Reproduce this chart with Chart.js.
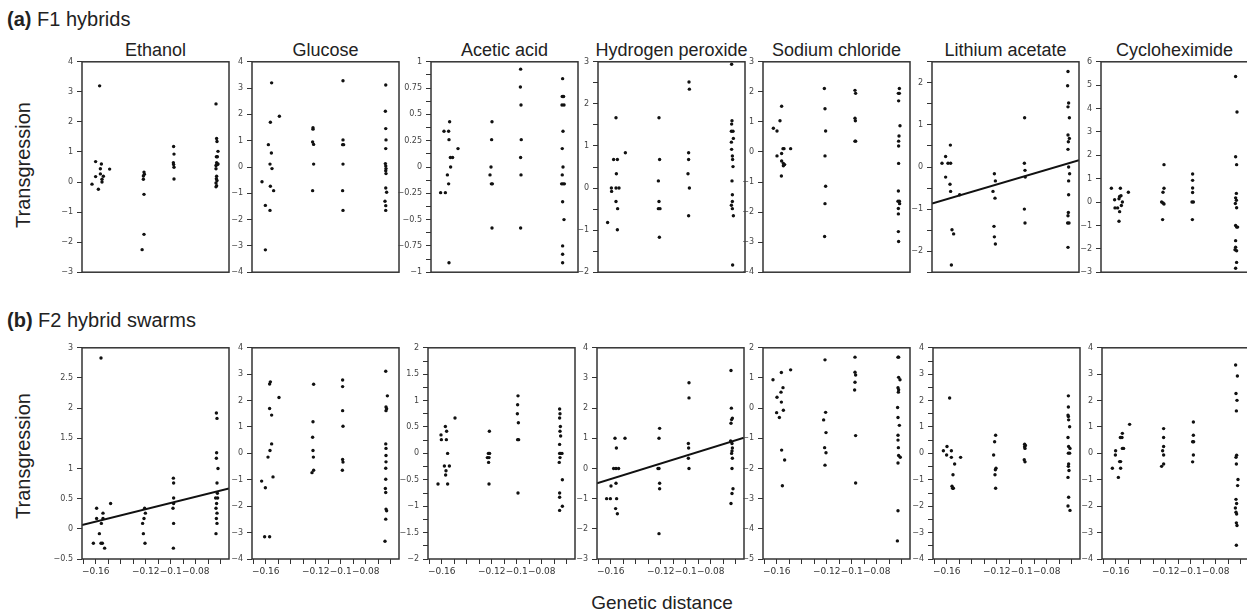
<!DOCTYPE html>
<html>
<head>
<meta charset="utf-8">
<script src="https://cdn.jsdelivr.net/npm/chart.js@4.4.1/dist/chart.umd.min.js"></script>
<style>
  body { margin: 0; background: #fff; width: 1247px; height: 613px; position: relative; overflow: hidden;
         font-family: "Liberation Sans", Arial, sans-serif; color: #222; }
  .txt { position: absolute; white-space: nowrap; }
  .title { position: absolute; white-space: nowrap; font-size: 18px; line-height: 20px; top: 40px; transform: translateX(-50%); }
  .ylab { position: absolute; font-size: 20px; line-height: 20px; white-space: nowrap; transform: translate(-50%, -50%) rotate(-90deg); }
  canvas { position: absolute; }
</style>
</head>
<body>
<div class="txt" style="left:7px;top:9px;font-size:20px;line-height:20px"><b>(a)</b> F1 hybrids</div>
<div class="txt" style="left:7px;top:310px;font-size:20px;line-height:20px"><b>(b)</b> F2 hybrid swarms</div>
<div class="ylab" style="left:23px;top:165px">Transgression</div>
<div class="ylab" style="left:23px;top:456px">Transgression</div>
<div class="txt" style="left:662px;top:593px;font-size:19px;line-height:20px;transform:translateX(-50%)">Genetic distance</div>
<div id="titles"></div>
<div id="plots"></div>

<script>
// stresses (panel titles)
const stresses = ['Ethanol', 'Glucose', 'Acetic acid', 'Hydrogen peroxide', 'Sodium chloride', 'Lithium acetate', 'Cycloheximide'];

// genetic distance axis
const X_MIN = -0.171, X_MAX = -0.0534;
const xTickValues = [-0.17, -0.16, -0.15, -0.14, -0.13, -0.12, -0.11, -0.1, -0.09, -0.08, -0.07, -0.06];
const xTickLabels = [-0.16, -0.12, -0.1, -0.08];

// (a) F1 hybrids: [genetic distance, transgression]
const f1Ethanol = [[-0.1630,-0.07],[-0.1601,0.18],[-0.1601,0.68],[-0.1579,-0.24],[-0.1569,3.2],[-0.1563,0.44],[-0.1555,0.6],[-0.1563,0.27],[-0.1550,0.0],[-0.1550,0.09],[-0.1539,0.19],[-0.1489,0.43],
  [-0.1214,0.33],[-0.1211,0.26],[-0.1219,0.2],[-0.1219,0.09],[-0.1214,-0.41],[-0.1214,-1.74],[-0.1229,-2.25],
  [-0.0977,1.18],[-0.0974,0.93],[-0.0979,0.64],[-0.0977,0.58],[-0.0974,0.49],[-0.0974,0.1],
  [-0.0638,2.6],[-0.0633,1.45],[-0.0630,1.35],[-0.0622,1.02],[-0.0635,0.84],[-0.0627,0.84],[-0.0633,0.64],[-0.0627,0.58],[-0.0638,0.55],[-0.0622,0.6],[-0.0638,0.44],[-0.0633,0.19],[-0.0635,0.11],[-0.0630,0.05],[-0.0638,-0.03],[-0.0633,-0.12],[-0.0638,-0.16]];
const f1Glucose = [[-0.1630,-0.56],[-0.1603,-1.46],[-0.1553,3.2],[-0.1563,1.7],[-0.1579,0.85],[-0.1555,0.53],[-0.1566,0.11],[-0.1550,-0.06],[-0.1563,-0.73],[-0.1537,-0.9],[-0.1566,-1.65],[-0.1603,-3.15],[-0.1491,1.93],
  [-0.1222,1.49],[-0.1222,1.44],[-0.1225,0.95],[-0.1217,0.86],[-0.1217,0.11],[-0.1225,-0.9],
  [-0.0982,3.28],[-0.0982,1.03],[-0.0985,0.85],[-0.0977,0.85],[-0.0982,0.11],[-0.0985,-0.9],[-0.0982,-1.65],
  [-0.0640,3.12],[-0.0643,2.12],[-0.0640,1.46],[-0.0638,1.03],[-0.0640,0.7],[-0.0643,0.13],[-0.0640,0.04],[-0.0638,-0.06],[-0.0640,-0.14],[-0.0638,-0.25],[-0.0640,-0.8],[-0.0633,-0.96],[-0.0646,-1.3],[-0.0640,-1.47],[-0.0640,-1.65]];
const f1Acetic = [[-0.1633,-0.244],[-0.1595,-0.244],[-0.1606,0.34],[-0.1569,0.34],[-0.1561,0.43],[-0.1566,0.26],[-0.1555,0.09],[-0.1537,0.09],[-0.1553,0.0],[-0.1579,-0.075],[-0.1569,-0.16],[-0.1494,0.175],[-0.1566,-0.91],
  [-0.1222,0.43],[-0.1225,0.26],[-0.1230,0.0],[-0.1238,-0.075],[-0.1227,-0.16],[-0.1219,-0.16],[-0.1222,-0.58],
  [-0.0993,0.93],[-0.0995,0.76],[-0.0990,0.59],[-0.0988,0.26],[-0.0993,0.09],[-0.0990,-0.075],[-0.0993,-0.58],
  [-0.0657,0.84],[-0.0660,0.67],[-0.0649,0.67],[-0.0662,0.59],[-0.0646,0.59],[-0.0654,0.34],[-0.0660,0.175],[-0.0654,0.0],[-0.0660,-0.075],[-0.0665,-0.16],[-0.0654,-0.16],[-0.0643,-0.16],[-0.0657,-0.33],[-0.0646,-0.5],[-0.0657,-0.75],[-0.0657,-0.83],[-0.0657,-0.91]];
const f1H2O2 = [[-0.1633,-0.82],[-0.1603,0.0],[-0.1601,-0.08],[-0.1585,0.68],[-0.1555,0.68],[-0.1566,1.67],[-0.1563,0.34],[-0.1566,0.0],[-0.1542,0.0],[-0.1566,-0.32],[-0.1553,-0.49],[-0.1555,-0.99],[-0.1491,0.84],
  [-0.1222,1.67],[-0.1217,0.68],[-0.1227,0.17],[-0.1222,-0.32],[-0.1227,-0.49],[-0.1214,-0.49],[-0.1219,-1.17],
  [-0.0982,2.52],[-0.0979,2.35],[-0.0985,0.84],[-0.0985,0.68],[-0.0990,0.34],[-0.0979,0.0],[-0.0985,-0.66],
  [-0.0641,2.94],[-0.0638,1.6],[-0.0641,1.52],[-0.0643,1.35],[-0.0630,1.35],[-0.0627,1.18],[-0.0643,1.09],[-0.0641,0.92],[-0.0635,0.76],[-0.0633,0.68],[-0.0630,0.51],[-0.0638,0.17],[-0.0635,-0.16],[-0.0635,-0.32],[-0.0643,-0.41],[-0.0635,-0.49],[-0.0627,-0.66],[-0.0633,-1.83]];
const f1NaCl = [[-0.1627,0.79],[-0.1598,0.7],[-0.1574,1.04],[-0.1561,1.52],[-0.1598,-0.13],[-0.1561,-0.05],[-0.1550,0.11],[-0.1542,0.11],[-0.1561,-0.3],[-0.1547,-0.38],[-0.1537,-0.42],[-0.1547,-0.46],[-0.1563,-0.8],[-0.1489,0.11],
  [-0.1219,2.11],[-0.1214,1.44],[-0.1209,0.7],[-0.1214,-0.13],[-0.1209,-1.14],[-0.1214,-1.72],[-0.1217,-2.81],
  [-0.0974,2.05],[-0.0969,1.95],[-0.0974,1.12],[-0.0971,1.04],[-0.0969,0.36],[-0.0974,0.36],
  [-0.0619,2.11],[-0.0627,1.95],[-0.0619,1.95],[-0.0625,1.7],[-0.0614,0.87],[-0.0622,0.53],[-0.0625,0.36],[-0.0625,0.2],[-0.0625,-0.38],[-0.0627,-1.3],[-0.0630,-1.64],[-0.0619,-1.64],[-0.0617,-1.72],[-0.0627,-1.88],[-0.0627,-2.06],[-0.0627,-2.65],[-0.0625,-2.98]];
const f1LiAc = [[-0.1630,0.09],[-0.1601,0.25],[-0.1582,0.09],[-0.1561,0.09],[-0.1563,0.52],[-0.1601,-0.24],[-0.1566,-0.41],[-0.1561,-0.58],[-0.1489,-0.66],[-0.1550,-1.49],[-0.1537,-1.59],[-0.1555,-2.33],
  [-0.1211,-0.16],[-0.1203,-0.33],[-0.1222,-0.58],[-0.1206,-0.74],[-0.1214,-1.41],[-0.1211,-1.66],[-0.1203,-1.83],
  [-0.0969,1.17],[-0.0971,0.09],[-0.0966,-0.08],[-0.0964,-0.24],[-0.0971,-1.0],[-0.0966,-1.33],
  [-0.0622,2.27],[-0.0625,1.93],[-0.0617,1.52],[-0.0622,1.43],[-0.0611,1.17],[-0.0622,0.76],[-0.0611,0.68],[-0.0619,0.6],[-0.0622,0.42],[-0.0617,0.0],[-0.0609,-0.16],[-0.0617,-0.33],[-0.0617,-0.66],[-0.0619,-1.08],[-0.0622,-1.16],[-0.0625,-1.33],[-0.0614,-1.33],[-0.0622,-1.91]];
const f1Cyclo = [[-0.1627,0.59],[-0.1555,0.59],[-0.1601,0.1],[-0.1561,0.24],[-0.1550,0.27],[-0.1566,0.14],[-0.1598,-0.25],[-0.1577,-0.25],[-0.1539,0.0],[-0.1547,-0.15],[-0.1561,-0.41],[-0.1566,-0.82],[-0.1491,0.42],
  [-0.1206,1.6],[-0.1206,0.59],[-0.1214,0.42],[-0.1225,0.0],[-0.1214,-0.04],[-0.1206,-0.08],[-0.1217,-0.75],
  [-0.0977,1.2],[-0.0977,0.93],[-0.0977,0.6],[-0.0977,0.41],[-0.0982,0.0],[-0.0971,0.0],[-0.0979,-0.75],
  [-0.0633,5.37],[-0.0622,3.85],[-0.0633,1.94],[-0.0625,1.6],[-0.0627,0.37],[-0.0633,0.18],[-0.0627,0.08],[-0.0635,-0.06],[-0.0625,-0.24],[-0.0633,-1.0],[-0.0625,-1.07],[-0.0617,-1.07],[-0.0633,-1.65],[-0.0633,-1.93],[-0.0638,-2.04],[-0.0625,-2.08],[-0.0625,-2.58],[-0.0633,-2.83]];

// (b) F2 hybrid swarms
const f2Ethanol = [[-0.1619,-0.24],[-0.1593,0.34],[-0.1593,0.17],[-0.1571,-0.08],[-0.1558,2.83],[-0.1558,-0.24],[-0.1547,-0.24],[-0.1555,0.09],[-0.1542,0.26],[-0.1542,0.17],[-0.1529,-0.32],[-0.1481,0.42],
  [-0.1209,0.34],[-0.1203,0.26],[-0.1214,0.17],[-0.1225,0.09],[-0.1219,-0.08],[-0.1206,-0.24],
  [-0.0979,0.84],[-0.0977,0.76],[-0.0977,0.51],[-0.0977,0.42],[-0.0982,0.34],[-0.0977,0.09],[-0.0979,-0.32],
  [-0.0635,1.92],[-0.0630,1.83],[-0.0633,1.26],[-0.0635,1.17],[-0.0622,1.0],[-0.0630,0.76],[-0.0627,0.59],[-0.0641,0.51],[-0.0625,0.51],[-0.0633,0.42],[-0.0638,0.34],[-0.0630,0.26],[-0.0635,0.17],[-0.0630,0.09],[-0.0638,-0.08]];
const f2Glucose = [[-0.1633,-1.05],[-0.1603,-1.3],[-0.1609,-3.16],[-0.1569,-3.16],[-0.1582,-0.14],[-0.1566,0.11],[-0.1553,0.36],[-0.1569,1.7],[-0.1553,1.45],[-0.1569,2.63],[-0.1563,2.71],[-0.1542,-0.89],[-0.1494,2.12],
  [-0.1217,2.62],[-0.1222,1.2],[-0.1225,0.61],[-0.1222,0.11],[-0.1219,-0.14],[-0.1230,-0.73],[-0.1217,-0.64],
  [-0.0985,2.78],[-0.0985,2.53],[-0.0985,1.62],[-0.0982,1.03],[-0.0985,-0.23],[-0.0982,-0.33],[-0.0987,-0.64],
  [-0.0640,3.11],[-0.0627,2.18],[-0.0638,1.76],[-0.0633,1.69],[-0.0638,1.62],[-0.0640,0.36],[-0.0638,0.19],[-0.0638,-0.08],[-0.0638,-0.32],[-0.0640,-0.56],[-0.0640,-0.98],[-0.0643,-1.33],[-0.0640,-1.48],[-0.0638,-2.11],[-0.0633,-2.17],[-0.0640,-2.49],[-0.0646,-3.33]];
const f2Acetic = [[-0.1630,-0.58],[-0.1606,0.35],[-0.1603,0.26],[-0.1571,0.51],[-0.1561,0.42],[-0.1563,0.26],[-0.1553,0.0],[-0.1579,-0.24],[-0.1539,-0.24],[-0.1566,-0.33],[-0.1569,-0.41],[-0.1553,-0.58],[-0.1494,0.67],
  [-0.1219,0.42],[-0.1227,0.0],[-0.1217,0.0],[-0.1235,-0.08],[-0.1222,-0.08],[-0.1225,-0.17],[-0.1222,-0.58],
  [-0.0990,1.09],[-0.0993,0.92],[-0.0995,0.75],[-0.0987,0.58],[-0.0985,0.26],[-0.0993,0.26],[-0.0990,-0.75],
  [-0.0657,0.84],[-0.0654,0.75],[-0.0657,0.67],[-0.0651,0.51],[-0.0654,0.42],[-0.0649,0.33],[-0.0657,0.17],[-0.0657,0.0],[-0.0649,0.0],[-0.0638,0.0],[-0.0654,-0.08],[-0.0660,-0.17],[-0.0635,-0.5],[-0.0657,-0.75],[-0.0657,-0.83],[-0.0635,-1.0],[-0.0657,-1.08]];
const f2H2O2 = [[-0.1633,-1.0],[-0.1603,-1.0],[-0.1598,-0.58],[-0.1566,1.0],[-0.1555,0.68],[-0.1577,0.0],[-0.1558,0.0],[-0.1537,0.0],[-0.1558,-0.49],[-0.1553,-1.0],[-0.1561,-1.33],[-0.1547,-1.5],[-0.1486,1.0],
  [-0.1209,1.33],[-0.1214,1.0],[-0.1222,0.0],[-0.1214,0.0],[-0.1209,-0.49],[-0.1209,-0.67],[-0.1214,-2.16],
  [-0.0974,2.84],[-0.0974,2.34],[-0.0979,0.83],[-0.0977,0.68],[-0.0979,0.34],[-0.0974,0.0],
  [-0.0638,3.25],[-0.0635,2.0],[-0.0627,1.67],[-0.0633,1.62],[-0.0638,1.5],[-0.0641,0.91],[-0.0630,0.83],[-0.0627,0.68],[-0.0630,0.58],[-0.0633,0.5],[-0.0627,0.34],[-0.0630,0.0],[-0.0622,-0.67],[-0.0630,-0.83],[-0.0638,-1.16]];
const f2NaCl = [[-0.1630,0.94],[-0.1598,0.36],[-0.1601,-0.15],[-0.1579,-0.31],[-0.1563,1.18],[-0.1566,0.53],[-0.1563,0.2],[-0.1550,0.68],[-0.1547,-0.07],[-0.1561,-1.39],[-0.1537,-1.72],[-0.1555,-2.57],[-0.1489,1.27],
  [-0.1214,1.6],[-0.1225,-0.39],[-0.1209,-0.14],[-0.1206,-0.81],[-0.1217,-1.31],[-0.1206,-1.48],[-0.1214,-1.89],
  [-0.0974,1.69],[-0.0974,1.19],[-0.0969,1.1],[-0.0974,0.86],[-0.0977,0.6],[-0.0969,-0.91],[-0.0969,-2.48],
  [-0.0630,1.69],[-0.0625,1.69],[-0.0625,1.02],[-0.0614,0.94],[-0.0630,0.68],[-0.0625,0.61],[-0.0627,0.53],[-0.0633,0.02],[-0.0630,-0.31],[-0.0619,-0.57],[-0.0630,-0.9],[-0.0630,-1.06],[-0.0627,-1.31],[-0.0625,-1.57],[-0.0612,-1.63],[-0.0630,-1.82],[-0.0630,-3.4],[-0.0635,-4.4]];
const f2LiAc = [[-0.1627,0.1],[-0.1598,0.26],[-0.1601,-0.06],[-0.1577,2.1],[-0.1563,0.1],[-0.1563,-0.15],[-0.1537,-0.4],[-0.1550,-0.81],[-0.1558,-1.24],[-0.1553,-1.32],[-0.1547,-1.32],[-0.1489,-0.15],
  [-0.1209,0.69],[-0.1217,0.44],[-0.1225,-0.06],[-0.1206,-0.56],[-0.1211,-0.62],[-0.1214,-0.81],[-0.1209,-1.32],
  [-0.0977,0.35],[-0.0971,0.3],[-0.0977,0.25],[-0.0974,0.19],[-0.0980,-0.24],[-0.0974,-0.32],
  [-0.0627,2.18],[-0.0627,1.76],[-0.0630,1.45],[-0.0627,1.4],[-0.0625,1.27],[-0.0617,1.01],[-0.0630,0.6],[-0.0625,0.26],[-0.0614,0.19],[-0.0627,0.01],[-0.0617,0.01],[-0.0625,-0.4],[-0.0627,-0.49],[-0.0622,-0.65],[-0.0630,-0.91],[-0.0625,-1.66],[-0.0630,-1.99],[-0.0614,-2.16]];
const f2Cyclo = [[-0.1627,-0.56],[-0.1601,0.1],[-0.1603,-0.06],[-0.1579,-0.91],[-0.1561,-0.31],[-0.1569,-0.31],[-0.1561,-0.56],[-0.1563,0.6],[-0.1550,0.6],[-0.1547,0.76],[-0.1547,0.19],[-0.1537,0.19],[-0.1489,1.1],
  [-0.1217,0.94],[-0.1217,0.6],[-0.1217,0.26],[-0.1225,0.1],[-0.1217,-0.06],[-0.1233,-0.49],[-0.1217,-0.4],
  [-0.0979,1.19],[-0.0979,0.69],[-0.0985,0.44],[-0.0977,0.44],[-0.0979,-0.06],[-0.0985,-0.32],
  [-0.0641,3.35],[-0.0627,2.93],[-0.0638,2.27],[-0.0630,2.01],[-0.0635,1.61],[-0.0633,-0.07],[-0.0638,-0.15],[-0.0635,-0.4],[-0.0622,-0.99],[-0.0625,-1.22],[-0.0638,-1.74],[-0.0633,-1.9],[-0.0643,-2.07],[-0.0638,-2.23],[-0.0633,-2.3],[-0.0635,-2.63],[-0.0630,-2.73],[-0.0635,-3.48]];

// regression lines: transgression at X_MIN and X_MAX
const fitF1LiAc = [-0.87, 0.16];
const fitF2Ethanol = [0.065, 0.67];
const fitF2H2O2 = [-0.49, 1.02];

// y axis: [min, max, labelled step, tick step]
const panels = [
  { row: 0, col: 0, points: f1Ethanol, y: [-3, 4, 1, 1] },
  { row: 0, col: 1, points: f1Glucose, y: [-4, 4, 1, 1] },
  { row: 0, col: 2, points: f1Acetic, y: [-1, 1, 0.25, 0.125] },
  { row: 0, col: 3, points: f1H2O2, y: [-2, 3, 1, 0.5] },
  { row: 0, col: 4, points: f1NaCl, y: [-4, 3, 1, 1] },
  { row: 0, col: 5, points: f1LiAc, y: [-2.5, 2.5, 1, 0.5], fit: fitF1LiAc },
  { row: 0, col: 6, points: f1Cyclo, y: [-3, 6, 1, 1] },
  { row: 1, col: 0, points: f2Ethanol, y: [-0.5, 3, 0.5, 0.5], fit: fitF2Ethanol },
  { row: 1, col: 1, points: f2Glucose, y: [-4, 4, 1, 1] },
  { row: 1, col: 2, points: f2Acetic, y: [-2, 2, 0.5, 0.25] },
  { row: 1, col: 3, points: f2H2O2, y: [-3, 4, 1, 1], fit: fitF2H2O2 },
  { row: 1, col: 4, points: f2NaCl, y: [-5, 2, 1, 1] },
  { row: 1, col: 5, points: f2LiAc, y: [-4, 4, 1, 0.5] },
  { row: 1, col: 6, points: f2Cyclo, y: [-4, 4, 1, 1] }
];

// page layout
const lefts = [[82, 252, 431, 598, 763, 932, 1101], [82, 252, 428, 597, 763, 933, 1102]];
const tops = [60, 346];
const PW = 147, PH = 213, AXW = 34, PADT = 7, PADR = 4;
const AXH = [8, 26];

const fmt = v => String(+v.toFixed(3)).replace('-', '\u2212');
const near = (a, b) => Math.abs(a - b) < 1e-6;

const frame = {
  id: 'frame',
  afterDraw(chart) {
    const { ctx, chartArea: a } = chart;
    ctx.save();
    ctx.strokeStyle = '#333';
    ctx.lineWidth = 1.5;
    ctx.strokeRect(a.left, a.top, a.right - a.left, a.bottom - a.top);
    ctx.restore();
  }
};

const titles = document.getElementById('titles');
stresses.forEach((name, i) => {
  const d = document.createElement('div');
  d.className = 'title';
  d.style.left = (lefts[0][i] + PW / 2) + 'px';
  d.textContent = name;
  titles.appendChild(d);
});

const holder = document.getElementById('plots');
panels.forEach(p => {
  const showX = p.row === 1;
  const axh = AXH[p.row];
  const cv = document.createElement('canvas');
  cv.width = AXW + PW + PADR;
  cv.height = PADT + PH + axh;
  cv.style.left = (lefts[p.row][p.col] - AXW) + 'px';
  cv.style.top = (tops[p.row] - PADT) + 'px';
  holder.appendChild(cv);

  const [yMin, yMax, yMajor, yMinor] = p.y;
  const datasets = [{
    data: p.points.map(([x, y]) => ({ x, y })),
    pointRadius: 1.7,
    pointBackgroundColor: '#111',
    pointBorderWidth: 0
  }];
  if (p.fit) {
    datasets.push({
      data: [{ x: X_MIN, y: p.fit[0] }, { x: X_MAX, y: p.fit[1] }],
      showLine: true,
      borderColor: '#111',
      borderWidth: 2,
      pointRadius: 0
    });
  }

  new Chart(cv.getContext('2d'), {
    type: 'scatter',
    data: { datasets },
    options: {
      responsive: false,
      animation: false,
      events: [],
      layout: { padding: { top: PADT, right: PADR, left: 0, bottom: 0 } },
      plugins: { legend: { display: false }, tooltip: { enabled: false } },
      scales: {
        x: {
          type: 'linear',
          min: X_MIN,
          max: X_MAX,
          afterFit: s => { s.height = axh; },
          afterBuildTicks: s => { s.ticks = xTickValues.map(v => ({ value: v })); },
          ticks: {
            display: showX,
            autoSkip: false,
            maxRotation: 0,
            padding: 2,
            color: '#333',
            font: { family: 'DejaVu Sans', size: 9 },
            callback: v => xTickLabels.some(l => near(l, v)) ? fmt(v) : ''
          },
          grid: { display: showX, drawOnChartArea: false, tickLength: 5, color: '#333' },
          border: { display: false }
        },
        y: {
          type: 'linear',
          min: yMin,
          max: yMax,
          afterFit: s => { s.width = AXW; },
          afterBuildTicks: s => {
            const n = Math.round((yMax - yMin) / yMinor);
            const t = [];
            for (let i = 0; i <= n; i++) t.push({ value: +(yMin + i * yMinor).toFixed(4) });
            s.ticks = t;
          },
          ticks: {
            autoSkip: false,
            padding: 4,
            color: '#444',
            font: { family: 'DejaVu Sans', size: 8 },
            callback: v => near(v / yMajor, Math.round(v / yMajor)) ? fmt(v) : ''
          },
          grid: { drawOnChartArea: false, tickLength: 5, color: '#333' },
          border: { display: false }
        }
      }
    },
    plugins: [frame]
  });
});
</script>
</body>
</html>
